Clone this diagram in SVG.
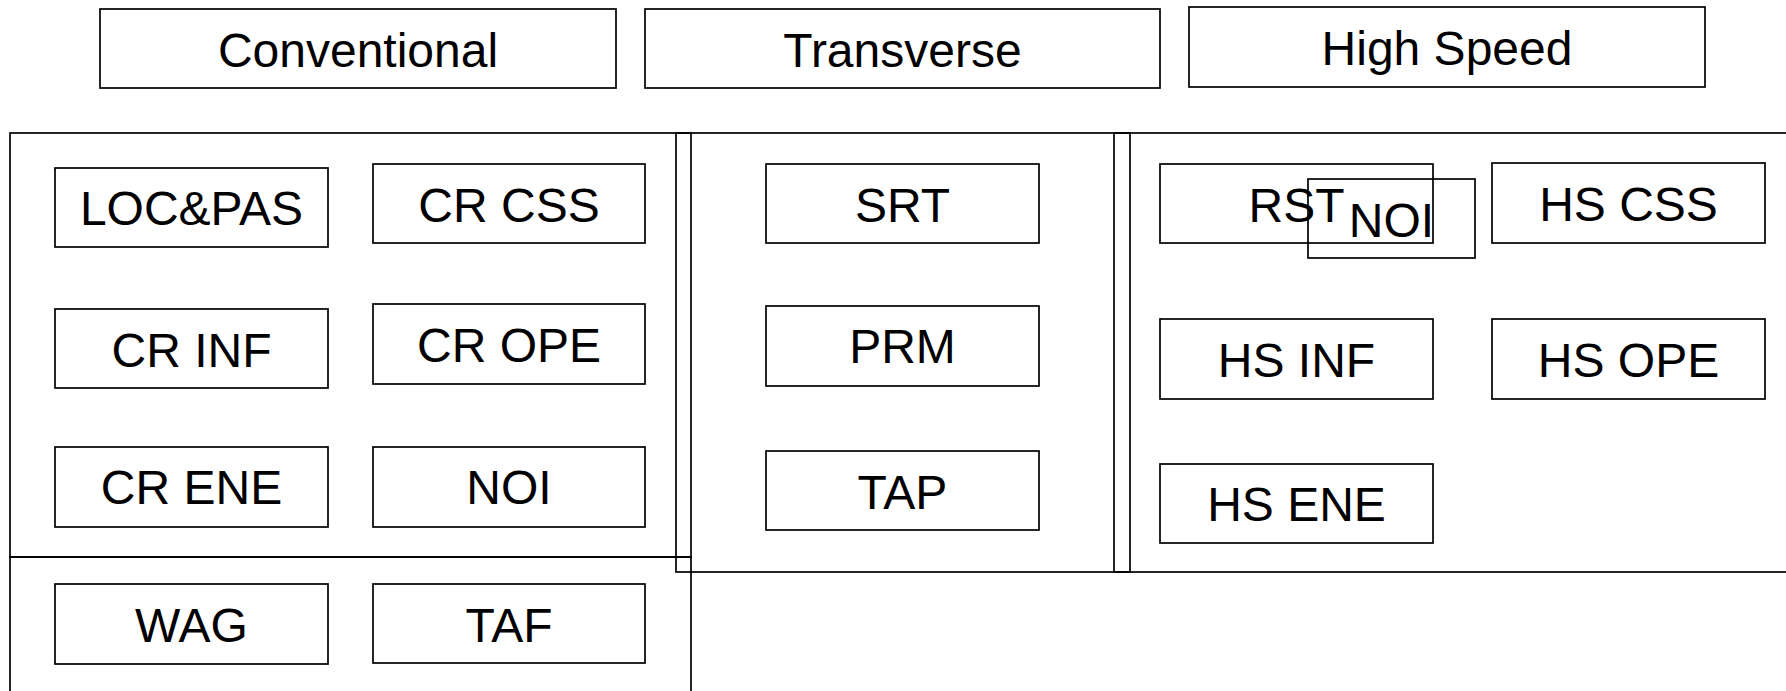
<svg xmlns="http://www.w3.org/2000/svg" width="1786" height="691" viewBox="0 0 1786 691">
<style>
rect{fill:none;stroke:#000;stroke-width:1.7}
text{font-family:"Liberation Sans",Arial,Helvetica,sans-serif;font-size:48px;fill:#000;text-anchor:middle}
</style>
<rect x="0" y="0" width="1786" height="691" style="fill:#fff;stroke:none"/>
<g id="frames">
<rect x="10" y="133" width="681" height="424"/>
<rect x="10" y="557" width="681" height="160"/>
<rect x="676" y="133" width="454" height="439"/>
<rect x="1114" y="133" width="700" height="439"/>
</g>
<g id="hdr-conventional"><rect x="100" y="9" width="516" height="79"/><text x="358" y="67">Conventional</text></g>
<g id="hdr-transverse"><rect x="645" y="9" width="515" height="79"/><text x="902.5" y="67">Transverse</text></g>
<g id="hdr-highspeed"><rect x="1189" y="7" width="516" height="80"/><text x="1447" y="65">High Speed</text></g>
<g id="n-locpas"><rect x="55" y="168" width="273" height="79"/><text x="191.5" y="225">LOC&amp;PAS</text></g>
<g id="n-crcss"><rect x="373" y="164" width="272" height="79"/><text x="509" y="222">CR CSS</text></g>
<g id="n-crinf"><rect x="55" y="309" width="273" height="79"/><text x="191.5" y="367">CR INF</text></g>
<g id="n-crope"><rect x="373" y="304" width="272" height="80"/><text x="509" y="362">CR OPE</text></g>
<g id="n-crene"><rect x="55" y="447" width="273" height="80"/><text x="191.5" y="504">CR ENE</text></g>
<g id="n-noi1"><rect x="373" y="447" width="272" height="80"/><text x="509" y="504">NOI</text></g>
<g id="n-wag"><rect x="55" y="584" width="273" height="80"/><text x="191.5" y="642">WAG</text></g>
<g id="n-taf"><rect x="373" y="584" width="272" height="79"/><text x="509" y="642">TAF</text></g>
<g id="n-srt"><rect x="766" y="164" width="273" height="79"/><text x="902.5" y="222">SRT</text></g>
<g id="n-prm"><rect x="766" y="306" width="273" height="80"/><text x="902.5" y="363">PRM</text></g>
<g id="n-tap"><rect x="766" y="451" width="273" height="79"/><text x="902.5" y="509">TAP</text></g>
<g id="n-rst"><rect x="1160" y="164" width="273" height="79"/><text x="1296.5" y="222">RST</text></g>
<g id="n-noi2"><rect x="1308" y="179" width="167" height="79"/><text x="1391.5" y="237">NOI</text></g>
<g id="n-hscss"><rect x="1492" y="163" width="273" height="80"/><text x="1628.5" y="221">HS CSS</text></g>
<g id="n-hsinf"><rect x="1160" y="319" width="273" height="80"/><text x="1296.5" y="377">HS INF</text></g>
<g id="n-hsope"><rect x="1492" y="319" width="273" height="80"/><text x="1628.5" y="377">HS OPE</text></g>
<g id="n-hsene"><rect x="1160" y="464" width="273" height="79"/><text x="1296.5" y="521">HS ENE</text></g>
<g id="connectors"></g>
</svg>
